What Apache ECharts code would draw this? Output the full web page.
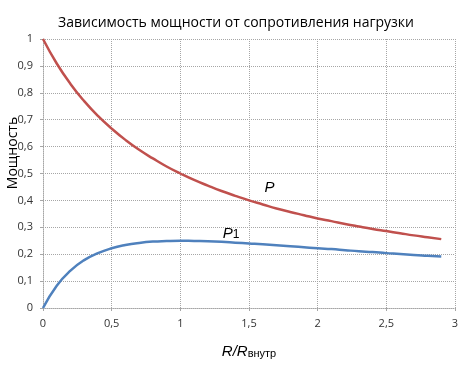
<!DOCTYPE html>
<html><head><meta charset="utf-8">
<script src="https://cdn.jsdelivr.net/npm/echarts@6/dist/echarts.min.js"></script>
<style>html,body{margin:0;padding:0;background:#fff}#c{width:472px;height:367px}</style>
</head><body><div id="c"></div>
<script>
const xValues = [0,0.1,0.2,0.3,0.4,0.5,0.6,0.7,0.8,0.9,1.0,1.1,1.2,1.3,1.4,1.5,1.6,1.7,1.8,1.9,2.0,2.1,2.2,2.3,2.4,2.5,2.6,2.7,2.8,2.9];
const pValues = [1,0.909,0.833,0.769,0.714,0.667,0.625,0.588,0.556,0.526,0.5,0.476,0.455,0.435,0.417,0.4,0.385,0.370,0.357,0.345,0.333,0.323,0.3125,0.303,0.294,0.286,0.278,0.270,0.263,0.256];
const p1Values = [0,0.083,0.139,0.178,0.204,0.222,0.234,0.242,0.247,0.249,0.25,0.249,0.248,0.246,0.243,0.240,0.237,0.233,0.230,0.226,0.222,0.219,0.215,0.211,0.208,0.204,0.201,0.197,0.194,0.191];
const titleText = 'Зависимость мощности от сопротивления нагрузки';
const yName = 'Мощность';

const chart = echarts.init(document.getElementById('c'));
const fmt = v => String(+v.toFixed(1)).replace('.', ',');
const grid = {left:43, right:17, top:39, bottom:59, containLabel:false, outerBoundsMode:'none'};
const dotted = {type:[1,1], color:'#a6a6a6', width:1};
chart.setOption({
  animation:false,
  textStyle:{fontFamily:'"Open Sans", "DejaVu Sans", sans-serif'},
  title:{text:titleText, left:231, top:11, textAlign:'center',
    textStyle:{fontSize:14, fontWeight:'normal', color:'#000', fontFamily:'"Open Sans", sans-serif'}},
  grid:grid,
  graphic:[{type:'text', x:13, y:153, rotation:Math.PI/2,
    style:{text:yName, fontSize:14, fill:'#000', align:'center', verticalAlign:'middle', fontFamily:'"Open Sans", sans-serif'}}],
  xAxis:{type:'value', min:0, max:3, interval:0.5,
    axisLine:{lineStyle:dotted}, axisTick:{show:true, length:3, lineStyle:{color:'#a6a6a6'}},
    splitLine:{show:true, lineStyle:dotted},
    axisLabel:{formatter:fmt, color:'#333', fontSize:11, margin:10},
    name:'{i|R}{i|/}{i|R}{s|внутр}', nameLocation:'middle', nameGap:36,
    nameTextStyle:{rich:{i:{fontSize:15, fontStyle:'italic', color:'#000', fontFamily:'Arial, "Liberation Sans", sans-serif'}, s:{fontSize:11, color:'#000', padding:[4,0,0,0], fontFamily:'Arial, "Liberation Sans", sans-serif'}}}},
  yAxis:{type:'value', min:0, max:1, interval:0.1,
    axisLine:{show:true, lineStyle:dotted}, axisTick:{show:true, length:3, lineStyle:{color:'#a6a6a6'}},
    splitLine:{show:true, lineStyle:dotted},
    axisLabel:{formatter:fmt, color:'#333', fontSize:11, margin:10}},
  series:[
    {type:'line', smooth:true, showSymbol:false, data:xValues.map((x,i)=>[x,pValues[i]]),
      lineStyle:{color:'#C0504D', width:2.5}, itemStyle:{color:'#C0504D'},
      markPoint:{symbol:'circle', symbolSize:0, data:[{coord:[1.65,0.445], value:'P'}],
        label:{show:true, formatter:'P', fontStyle:'italic', fontSize:15, color:'#000', fontFamily:'Arial, "Liberation Sans", sans-serif'}}},
    {type:'line', smooth:true, showSymbol:false, data:xValues.map((x,i)=>[x,p1Values[i]]),
      lineStyle:{color:'#4F81BD', width:2.5}, itemStyle:{color:'#4F81BD'},
      markPoint:{symbol:'circle', symbolSize:0, data:[{coord:[1.37,0.277], value:'P1'}],
        label:{show:true, formatter:'{i|P}{s|1}', color:'#000',
          rich:{i:{fontStyle:'italic', fontSize:15, fontFamily:'Arial, "Liberation Sans", sans-serif'}, s:{fontSize:12, fontFamily:'Arial, "Liberation Sans", sans-serif', padding:[3,0,0,0]}}}}}
  ]
});
</script></body></html>
